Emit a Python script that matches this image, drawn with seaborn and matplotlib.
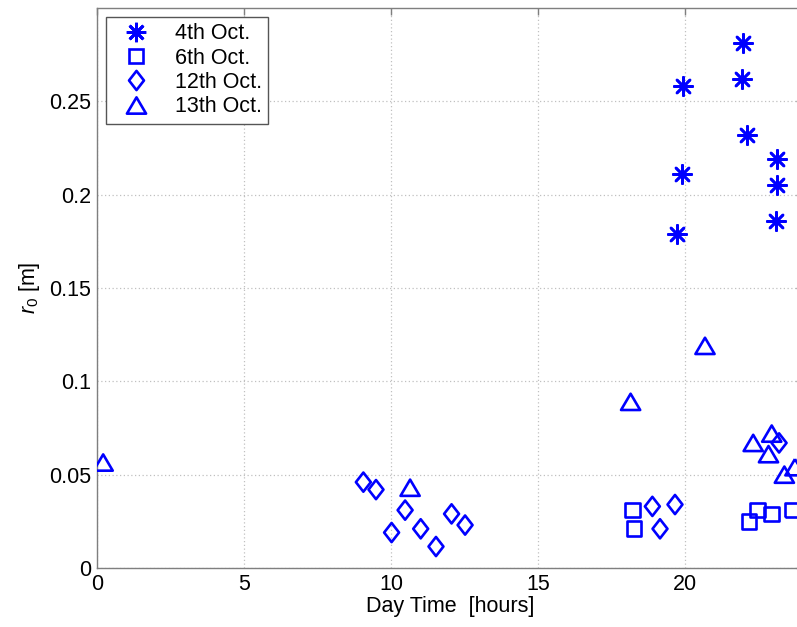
import matplotlib
matplotlib.use("Agg")
import matplotlib.pyplot as plt
import numpy as np
import pandas as pd
import seaborn as sns
from matplotlib.path import Path
from matplotlib.lines import Line2D

# ---- data ----
oct4_x = [19.74, 19.89, 19.92, 21.95, 21.98, 22.10, 23.12, 23.12, 23.10]
oct4_y = [0.179, 0.211, 0.258, 0.262, 0.281, 0.232, 0.219, 0.205, 0.186]

oct6_x = [18.21, 18.27, 22.18, 22.46, 22.95, 23.65]
oct6_y = [0.031, 0.021, 0.025, 0.031, 0.029, 0.031]

oct12_x = [9.06, 9.49, 10.02, 10.48, 11.01, 11.53, 12.06, 12.52, 18.89, 19.15, 19.66, 23.20]
oct12_y = [0.046, 0.042, 0.019, 0.031, 0.021, 0.0115, 0.029, 0.023, 0.033, 0.021, 0.034, 0.067]

oct13_x = [0.21, 10.65, 18.15, 20.68, 22.32, 22.84, 22.95, 23.38, 23.74]
oct13_y = [0.0565, 0.043, 0.089, 0.119, 0.067, 0.061, 0.072, 0.050, 0.054]

labels = ["4th Oct.", "6th Oct.", "12th Oct.", "13th Oct."]
xticks = [0, 5, 10, 15, 20]
yticks = [0, 0.05, 0.1, 0.15, 0.2, 0.25]
ytick_labels = ["0", "0.05", "0.1", "0.15", "0.2", "0.25"]

# ---- style ----
sns.set_theme(style="white")
plt.rcParams["font.family"] = ["Liberation Sans", "DejaVu Sans"]
plt.rcParams["mathtext.fontset"] = "custom"
plt.rcParams["mathtext.rm"] = "Liberation Sans"
plt.rcParams["mathtext.it"] = "Liberation Sans:italic"
plt.rcParams["text.color"] = "black"
plt.rcParams["axes.labelcolor"] = "black"
plt.rcParams["xtick.color"] = "black"
plt.rcParams["ytick.color"] = "black"

FS = 15.5
BLUE = "#0000ff"
LW = 1.9

diamond = Path([(0, 1), (0.78, 0), (0, -1), (-0.78, 0), (0, 1)],
               [Path.MOVETO, Path.LINETO, Path.LINETO, Path.LINETO, Path.CLOSEPOLY])
triangle = Path([(0, 0.85), (1.0, -0.85), (-1.0, -0.85), (0, 0.85)],
                [Path.MOVETO, Path.LINETO, Path.LINETO, Path.CLOSEPOLY])
asterisk = (8, 2, 0)

fig = plt.figure(figsize=(7.97, 6.27), dpi=100)
ax = fig.add_axes([97 / 797, 59 / 627, 705.6 / 797, 560 / 627])

df4 = pd.DataFrame({"x": oct4_x, "y": oct4_y})
df6 = pd.DataFrame({"x": oct6_x, "y": oct6_y})
df12 = pd.DataFrame({"x": oct12_x, "y": oct12_y})
df13 = pd.DataFrame({"x": oct13_x, "y": oct13_y})

sns.scatterplot(data=df4, x="x", y="y", marker=asterisk, s=175, color=BLUE,
                linewidth=LW, ax=ax, zorder=3)
sns.scatterplot(data=df6, x="x", y="y", marker="s", s=112, color=BLUE,
                facecolor="none", edgecolor=BLUE, linewidth=LW, ax=ax, zorder=3)
sns.scatterplot(data=df12, x="x", y="y", marker=diamond, s=190, color=BLUE,
                facecolor="none", edgecolor=BLUE, linewidth=LW, ax=ax, zorder=3)
sns.scatterplot(data=df13, x="x", y="y", marker=triangle, s=190, color=BLUE,
                facecolor="none", edgecolor=BLUE, linewidth=LW, ax=ax, zorder=3)

ax.set_xlim(0, 24)
ax.set_ylim(0, 0.3)
ax.set_xticks(xticks)
ax.set_yticks(yticks)
ax.set_yticklabels(ytick_labels)
ax.grid(True, linestyle=(0, (1, 2)), color="#c0c0c0", linewidth=0.9)
ax.set_axisbelow(True)
for sp in ax.spines.values():
    sp.set_color("#7f7f7f")
    sp.set_linewidth(1.0)
ax.tick_params(direction="in", top=True, right=True, length=5, width=1.0,
               color="#7f7f7f", labelsize=FS, labelcolor="black", pad=4)
ax.set_xlabel("Day Time  [hours]", fontsize=FS, labelpad=1, color="black")
ax.set_ylabel(r"$r_0$ [m]", fontsize=FS, labelpad=5, color="black")

handles = [
    Line2D([], [], linestyle="none", marker=asterisk, markersize=14, color=BLUE, markeredgewidth=2.0),
    Line2D([], [], linestyle="none", marker="s", markersize=10.5, markerfacecolor="none",
           markeredgecolor=BLUE, markeredgewidth=LW),
    Line2D([], [], linestyle="none", marker=diamond, markersize=13.8, markerfacecolor="none",
           markeredgecolor=BLUE, markeredgewidth=LW),
    Line2D([], [], linestyle="none", marker=triangle, markersize=13.8, markerfacecolor="none",
           markeredgecolor=BLUE, markeredgewidth=LW),
]
leg = ax.legend(handles, labels, loc="upper left", bbox_to_anchor=(106 / 797, 1 - 17 / 627),
                bbox_transform=fig.transFigure, fontsize=FS, frameon=True, fancybox=False,
                edgecolor="#555555", framealpha=1, borderpad=0.3, labelspacing=0.15,
                handlelength=2.2, handletextpad=0.7, borderaxespad=0)
leg.get_frame().set_linewidth(1.0)
for t in leg.get_texts():
    t.set_color("black")

fig.savefig("out.png", dpi=100)
